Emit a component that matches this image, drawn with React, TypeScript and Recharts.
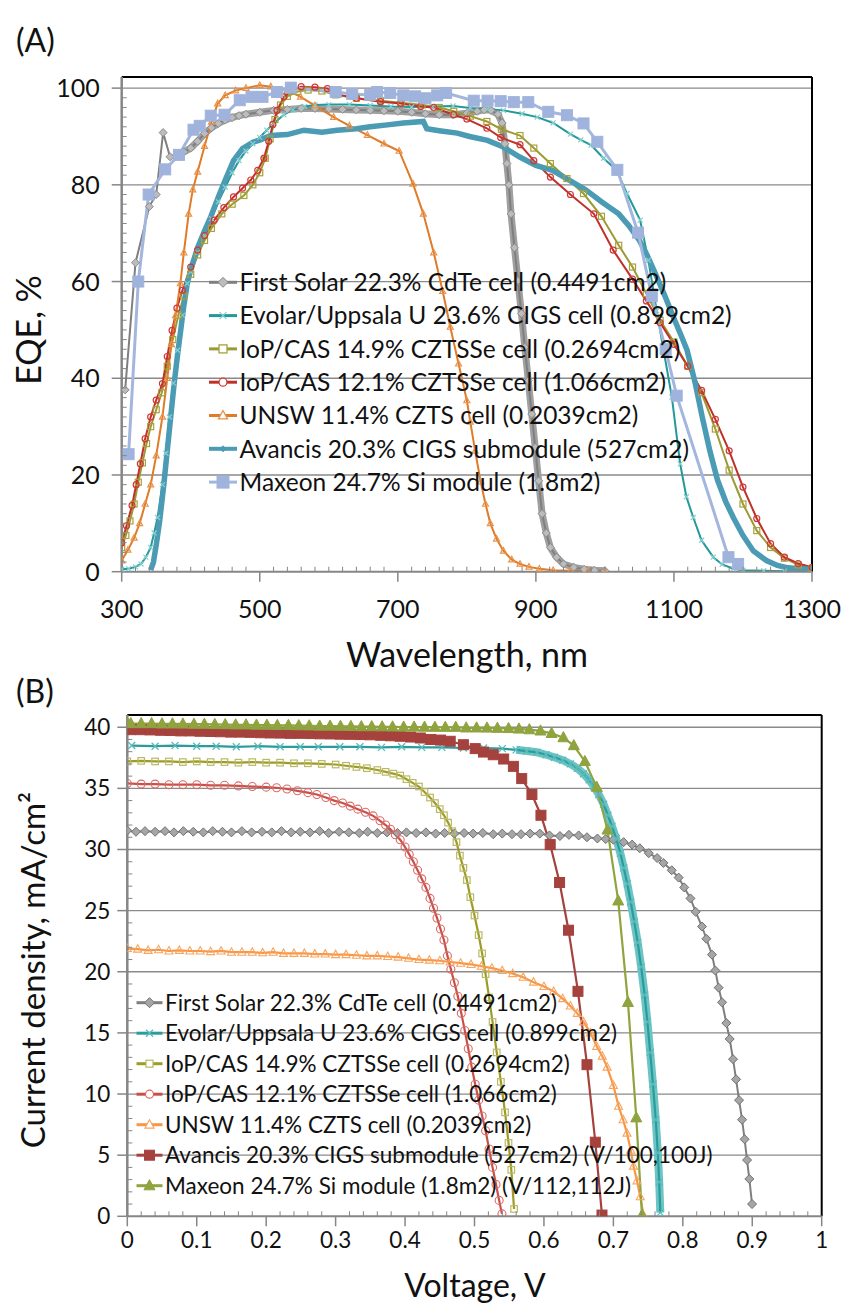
import React from 'react';
import { LineChart, Line, XAxis, YAxis, CartesianGrid, ReferenceLine } from 'recharts';

const FONT = "Lato, 'Noto Sans', sans-serif";
const AXIS = '#868686';
const GRID = '#8a8a8a';

type P = [number, number];

// ---------------- Panel A : EQE (%) vs wavelength (nm) ----------------
const legendA = [
  'First Solar 22.3% CdTe cell (0.4491cm2)',
  'Evolar/Uppsala U 23.6% CIGS cell (0.899cm2)',
  'IoP/CAS 14.9% CZTSSe cell (0.2694cm2)',
  'IoP/CAS 12.1% CZTSSe cell (1.066cm2)',
  'UNSW 11.4% CZTS cell (0.2039cm2)',
  'Avancis 20.3% CIGS submodule (527cm2)',
  'Maxeon 24.7% Si module (1.8m2)',
];

const firstSolarEQE: P[] = [[305,37.6],[320,63.9],[340,75.5],[350,78],[360,90.8],[370,85.8],[380,86.3],[390,86.8],[400,87.6],[410,89],[420,90.6],[430,91.8],[440,92.7],[450,93.4],[460,93.9],[470,94.3],[480,94.6],[500,95],[520,95.4],[540,95.6],[560,95.8],[580,95.8],[600,95.7],[620,95.6],[640,95.5],[660,95.4],[680,95.3],[700,95.2],[720,95],[740,94.7],[760,94.5],[780,94.5],[800,94.8],[815,95.2],[825,95.5],[835,95.4],[845,94.6],[851,92.8],[855,88.5],[858,84.4],[861,80],[864,74],[869,67],[874,60.2],[879,53.4],[884,46.4],[889,39.5],[894,32.6],[899,25.7],[904,18.8],[909,12],[915,8],[921,5],[930,3],[940,1.6],[955,0.9],[970,0.5],[985,0.3],[1000,0.2]];

const evolarEQE: P[] = [[300,0.5],[310,0.6],[320,1],[328,1.6],[335,3],[342,5],[347,8],[352,11.2],[359,18],[364,24.5],[369,32],[375,39],[381,45.8],[388,53],[395,59.6],[400,62],[410,66],[420,69.5],[430,73],[440,76.5],[450,79.5],[460,82.5],[470,85],[480,87],[490,88.5],[500,89.8],[510,91.3],[520,92.7],[535,94.5],[548,95.5],[565,96.2],[580,96.5],[600,96.6],[630,96.6],[660,96.4],[690,96.2],[720,96.1],[750,96.2],[780,96.3],[805,95.9],[830,95.7],[853,95.4],[880,94.7],[902,94],[925,92.8],[950,90.5],[965,89.3],[980,88.2],[998,85.5],[1017,83],[1032,78.2],[1051,72.7],[1063,64.4],[1075,54],[1085,45.8],[1097,36.1],[1109,22.3],[1118,15.5],[1128,11.2],[1140,6.5],[1157,3],[1170,1.5],[1186,0.6],[1200,0.3],[1230,0.2],[1260,0.1],[1300,0.1]];

const iop149EQE: P[] = [[300,5],[306,7.5],[312,10.5],[318,14],[324,18.5],[330,22.5],[336,26.5],[342,30],[350,33.5],[358,37],[366,42.5],[374,48],[382,53],[390,57],[400,61.5],[410,65.5],[420,68.5],[430,71],[445,74],[460,76],[477,77.8],[490,80],[500,82.5],[508,85.5],[515,89.5],[522,93.5],[530,96.5],[540,98.3],[555,99.3],[570,99.6],[590,99.4],[610,98.6],[640,97.9],[675,97.4],[705,97],[735,96.5],[760,96],[781,95.2],[805,94.2],[829,93.1],[850,91.5],[877,90.2],[897,87.6],[921,84.4],[945,81.3],[969,78.2],[995,73.5],[1020,67.5],[1040,63],[1060,57.5],[1080,52],[1100,47.5],[1120,42.5],[1140,37],[1160,29.5],[1180,21],[1200,14],[1220,8.5],[1240,5],[1260,2.8],[1280,1.4],[1300,0.6]];

const iop121EQE: P[] = [[300,6],[307,9.5],[315,13.7],[321,18],[327,22.3],[334,27.5],[342,32],[350,35.5],[359,38.9],[366,44.5],[373,49.9],[380,54.5],[388,58.2],[400,63],[410,66.5],[420,69.5],[434,72.7],[448,75.3],[462,77.5],[475,79.3],[487,81],[497,83],[506,85.5],[513,89],[519,92.5],[525,95.4],[535,98.2],[548,99.6],[560,100.3],[580,100.2],[598,99.9],[612,98.7],[640,97.9],[675,97.2],[704,96.8],[733,96.2],[752,96],[781,94.5],[800,93.6],[829,91.7],[849,89.8],[877,88.3],[897,85],[921,81.6],[950,78],[984,74],[1012,66.5],[1040,60.5],[1060,56],[1080,51.5],[1100,47],[1120,42.5],[1140,37.5],[1160,31.5],[1180,25],[1200,17.5],[1220,11],[1240,5.8],[1260,3],[1280,1.7],[1300,0.9]];

const unswEQE: P[] = [[300,2.3],[309,4.5],[318,7],[326,10],[334,14],[342,18],[350,24],[359,32],[366,40],[372,47],[378,53],[385,59.6],[390,66],[397,74],[403,79],[410,82.7],[420,88],[430,93],[439,96.8],[450,98.5],[465,99.5],[480,100],[500,100.6],[516,100.3],[540,99.6],[559,98.2],[580,96.4],[607,94],[630,92.2],[656,90.3],[680,88.5],[702,87],[722,80.2],[737,74],[752,66],[765,58],[776,50.6],[788,43],[800,35.4],[805,31],[812,25],[820,18.6],[827,14],[834,10],[843,6.8],[853,4.3],[865,2.5],[877,1.6],[890,1],[905,0.6],[925,0.3],[950,0.2],[975,0.1],[1000,0.1]];

const avancisEQE: P[] = [[342,0.3],[346,2],[350,5.5],[355,10.5],[361,18],[366,25],[371,32],[376,38.9],[381,45],[386,50.5],[390,55],[395,59.6],[400,62.5],[410,67],[420,70.5],[429,73.4],[440,77.5],[450,81],[462,85],[475,87.5],[490,88.8],[501,89.3],[516,90.2],[540,90.4],[564,91.3],[590,90.9],[612,91.3],[640,91.6],[660,92],[685,92.4],[708,92.8],[737,93.1],[742,91.6],[760,91.2],[786,90.7],[804,90],[830,89.2],[852,87.9],[876,85.8],[900,84],[924,83],[950,80.8],[972,79],[995,76.5],[1020,74],[1035,71.5],[1050,68.5],[1061,65.5],[1075,61],[1087,57],[1099,52.7],[1110,49],[1119,45.8],[1131,38.9],[1141,32],[1152,25],[1163,19],[1175,14.5],[1186,11.2],[1200,7.5],[1215,4.3],[1234,2.3],[1250,1.3],[1265,0.8],[1283,0.6],[1300,0.5]];

const maxeonEQE: P[] = [[310,24.3],[324,60],[339,78],[363,83.2],[383,86.2],[404,91.4],[413,92.2],[429,94.3],[449,94.5],[471,97.5],[488,98.2],[504,98.2],[525,99.2],[545,100.1],[610,99.2],[634,98.8],[660,98.6],[670,99.2],[689,99],[708,98.5],[725,98.3],[740,97.9],[757,98.5],[770,99],[810,97.4],[830,97.4],[849,97.3],[868,97.1],[889,97.1],[918,95.1],[945,94.4],[969,92.7],[989,88.9],[1018,83.1],[1048,70.1],[1068,57],[1088,46],[1104,36.4],[1179,3],[1193,1.6]];

const majorWavelength = [300, 500, 700, 900, 1100, 1300];
const majorEQE = [0, 20, 40, 60, 80, 100];

// ---------------- Panel B : current density vs voltage ----------------
const legendB = [
  'First Solar 22.3% CdTe cell (0.4491cm2)',
  'Evolar/Uppsala U 23.6% CIGS cell (0.899cm2)',
  'IoP/CAS 14.9% CZTSSe cell (0.2694cm2)',
  'IoP/CAS 12.1% CZTSSe cell (1.066cm2)',
  'UNSW 11.4% CZTS cell (0.2039cm2)',
  'Avancis 20.3% CIGS submodule (527cm2) (V/100,100J)',
  'Maxeon 24.7% Si module (1.8m2) (V/112,112J)',
];

const firstSolarJV: P[] = [[0,31.55],[0.0125,31.45],[0.0255,31.5],[0.04,31.45],[0.0543,31.5],[0.0672,31.4],[0.0807,31.5],[0.095,31.45],[0.1095,31.4],[0.123,31.5],[0.137,31.45],[0.15,31.4],[0.165,31.5],[0.179,31.4],[0.194,31.45],[0.208,31.4],[0.222,31.5],[0.236,31.4],[0.249,31.45],[0.263,31.4],[0.277,31.5],[0.29,31.35],[0.305,31.45],[0.319,31.4],[0.334,31.35],[0.346,31.45],[0.36,31.35],[0.374,31.4],[0.389,31.35],[0.402,31.4],[0.416,31.35],[0.43,31.4],[0.444,31.3],[0.457,31.35],[0.471,31.3],[0.485,31.35],[0.498,31.3],[0.512,31.35],[0.527,31.25],[0.54,31.3],[0.554,31.25],[0.567,31.25],[0.58,31.3],[0.594,31.3],[0.608,31.15],[0.623,31.1],[0.636,31.2],[0.65,31.15],[0.662,31.0],[0.677,30.9],[0.689,30.85],[0.7,30.8],[0.7147,30.6],[0.727,30.4],[0.738,30.1],[0.751,29.7],[0.763,29.3],[0.772,28.9],[0.784,28.3],[0.794,27.7],[0.802,26.9],[0.811,26],[0.8185,24.9],[0.8276,23.7],[0.8339,22.7],[0.842,21.4],[0.8468,20.1],[0.8516,18.7],[0.8565,17.5],[0.8627,15.8],[0.8675,14.5],[0.8723,12.85],[0.8767,11.2],[0.881,9.5],[0.8853,7.9],[0.889,6.3],[0.8925,4.6],[0.8958,3.05],[0.8997,1.0]];

const evolarJV: P[] = [[0.0063,38.5],[0.04,38.45],[0.0687,38.5],[0.0999,38.45],[0.128,38.45],[0.157,38.4],[0.188,38.45],[0.22,38.4],[0.249,38.4],[0.275,38.4],[0.306,38.4],[0.335,38.4],[0.366,38.35],[0.395,38.4],[0.424,38.35],[0.453,38.35],[0.484,38.3],[0.513,38.3],[0.54,38.25],[0.56,38.15],[0.575,38.05],[0.59,37.95],[0.603,37.75],[0.615,37.55],[0.627,37.3],[0.638,37.0],[0.648,36.65],[0.657,36.2],[0.665,35.7],[0.672,35.15],[0.679,34.5],[0.686,33.7],[0.692,32.8],[0.698,31.9],[0.704,30.9],[0.71,29.7],[0.715,28.5],[0.72,27.2],[0.725,25.7],[0.73,24.1],[0.735,22.4],[0.74,20.4],[0.745,18.1],[0.749,15.9],[0.753,13.4],[0.757,10.8],[0.761,7.9],[0.764,5.2],[0.766,2.8],[0.7676,0.3]];

const iop149JV: P[] = [[0,37.2],[0.02,37.25],[0.04,37.2],[0.06,37.2],[0.08,37.15],[0.1,37.2],[0.12,37.15],[0.14,37.15],[0.16,37.1],[0.18,37.15],[0.2,37.1],[0.22,37.1],[0.24,37.05],[0.26,37.05],[0.28,37.0],[0.3,36.95],[0.315,36.85],[0.33,36.75],[0.345,36.65],[0.36,36.5],[0.372,36.35],[0.383,36.2],[0.393,36.05],[0.402,35.75],[0.411,35.45],[0.42,35.15],[0.428,34.7],[0.436,34.25],[0.443,33.8],[0.45,33.3],[0.456,32.8],[0.462,32.2],[0.468,31.5],[0.474,30.6],[0.479,29.5],[0.484,28.5],[0.489,27.5],[0.494,26.1],[0.5,24.6],[0.506,23],[0.511,21.5],[0.516,19.8],[0.521,17.9],[0.526,15.9],[0.532,13.4],[0.538,11],[0.544,8.5],[0.549,6],[0.553,3.8],[0.557,0.6]];

const iop121JV: P[] = [[0,35.4],[0.02,35.35],[0.04,35.35],[0.06,35.3],[0.08,35.3],[0.1,35.3],[0.12,35.25],[0.14,35.25],[0.16,35.2],[0.18,35.15],[0.2,35.1],[0.215,35.05],[0.23,34.95],[0.245,34.8],[0.26,34.65],[0.273,34.5],[0.286,34.25],[0.298,34.0],[0.31,33.8],[0.321,33.55],[0.332,33.3],[0.343,33.05],[0.354,32.75],[0.364,32.35],[0.372,32.0],[0.379,31.65],[0.386,31.2],[0.393,30.8],[0.4,30.2],[0.406,29.6],[0.412,29.0],[0.418,28.3],[0.424,27.6],[0.43,26.9],[0.436,26.0],[0.441,25.2],[0.446,24.4],[0.451,23.5],[0.456,22.6],[0.461,21.3],[0.466,20.2],[0.471,19.1],[0.476,18],[0.481,16.6],[0.486,15.2],[0.491,13.7],[0.496,12.2],[0.501,10.8],[0.506,9.5],[0.511,8.2],[0.516,7.0],[0.521,5.5],[0.526,4.0],[0.531,2.6],[0.5355,1.3],[0.5395,0.2]];

const unswJV: P[] = [[0,21.9],[0.015,21.85],[0.03,21.75],[0.045,21.8],[0.06,21.7],[0.075,21.75],[0.09,21.7],[0.105,21.7],[0.12,21.65],[0.135,21.7],[0.15,21.6],[0.165,21.6],[0.18,21.6],[0.195,21.55],[0.21,21.6],[0.225,21.5],[0.24,21.5],[0.255,21.5],[0.27,21.45],[0.285,21.45],[0.3,21.4],[0.315,21.4],[0.33,21.35],[0.345,21.3],[0.36,21.3],[0.375,21.25],[0.39,21.2],[0.405,21.1],[0.42,21.0],[0.435,20.95],[0.45,20.9],[0.465,20.8],[0.48,20.7],[0.495,20.6],[0.51,20.45],[0.525,20.3],[0.54,20.1],[0.555,19.85],[0.57,19.55],[0.585,19.15],[0.6,18.8],[0.614,18.4],[0.627,17.8],[0.638,17.2],[0.648,16.6],[0.657,15.9],[0.667,15],[0.676,13.9],[0.684,13.1],[0.691,12.2],[0.7,10.7],[0.7075,9.0],[0.714,7.9],[0.7196,6.8],[0.725,5.4],[0.729,4.1],[0.734,2.9],[0.7387,1.6],[0.7435,0.1]];

const avancisJV: P[] = [[0.004,39.8],[0.019,39.8],[0.033,39.78],[0.048,39.75],[0.062,39.73],[0.077,39.7],[0.091,39.7],[0.105,39.67],[0.12,39.65],[0.134,39.63],[0.149,39.6],[0.163,39.6],[0.177,39.58],[0.192,39.55],[0.206,39.53],[0.221,39.52],[0.235,39.5],[0.249,39.5],[0.264,39.48],[0.278,39.46],[0.293,39.45],[0.307,39.43],[0.321,39.42],[0.336,39.4],[0.35,39.38],[0.365,39.34],[0.379,39.3],[0.393,39.26],[0.408,39.2],[0.422,39.12],[0.437,39.0],[0.451,38.95],[0.465,38.85],[0.484,38.57],[0.501,38.25],[0.513,37.97],[0.527,37.75],[0.542,37.4],[0.556,36.8],[0.568,35.8],[0.5827,34.5],[0.5957,32.8],[0.609,30.4],[0.6225,27.3],[0.6354,23.4],[0.649,18.4],[0.662,12.4],[0.674,6.06],[0.6836,0.1]];

const maxeonJV: P[] = [[0,40.35],[0.005,40.3],[0.02,40.3],[0.035,40.3],[0.05,40.28],[0.065,40.28],[0.08,40.27],[0.096,40.25],[0.111,40.25],[0.126,40.23],[0.141,40.22],[0.156,40.2],[0.171,40.2],[0.186,40.18],[0.201,40.17],[0.216,40.15],[0.232,40.15],[0.247,40.13],[0.262,40.12],[0.277,40.1],[0.292,40.1],[0.307,40.08],[0.322,40.07],[0.337,40.05],[0.352,40.05],[0.367,40.04],[0.382,40.03],[0.398,40.02],[0.413,40.02],[0.428,40.01],[0.443,40.0],[0.458,40.0],[0.473,40.0],[0.488,39.95],[0.503,39.95],[0.518,39.94],[0.533,39.92],[0.549,39.9],[0.564,39.86],[0.579,39.8],[0.595,39.7],[0.611,39.5],[0.628,39.15],[0.643,38.5],[0.659,37.2],[0.676,35.1],[0.6915,31.6],[0.707,25.8],[0.721,17.5],[0.733,8.06],[0.7412,0.1]];

const majorVoltage = [0, 0.1, 0.2, 0.3, 0.4, 0.5, 0.6, 0.7, 0.8, 0.9, 1];
const voltageLabels = ['0', '0.1', '0.2', '0.3', '0.4', '0.5', '0.6', '0.7', '0.8', '0.9', '1'];
const majorCurrent = [0, 5, 10, 15, 20, 25, 30, 35, 40];

// ---------------- helpers ----------------
const pts = (a: P[]) => a.map(([x, y]) => ({ x, y }));
const range = (start: number, end: number, step: number) => {
  const out: number[] = [];
  for (let i = 0; start + i * step <= end + 1e-9; i++) out.push(Math.round((start + i * step) * 1000) / 1000);
  return out;
};
const isIn = (v: number, arr: number[]) => arr.some((m) => Math.abs(m - v) < 1e-6);

type Mk = { shape: 'diamond' | 'square' | 'circle' | 'triangle' | 'x' | 'none'; size: number; fill: string; stroke: string; sw?: number };

function Marker({ cx, cy, m }: { cx: number; cy: number; m: Mk }) {
  const s = m.size;
  const h = s / 2;
  const sw = m.sw ?? 1;
  switch (m.shape) {
    case 'diamond':
      return <polygon points={`${cx},${cy - h} ${cx + h},${cy} ${cx},${cy + h} ${cx - h},${cy}`} fill={m.fill} stroke={m.stroke} strokeWidth={sw} />;
    case 'square':
      return <rect x={cx - h} y={cy - h} width={s} height={s} fill={m.fill} stroke={m.stroke} strokeWidth={sw} />;
    case 'circle':
      return <circle cx={cx} cy={cy} r={h} fill={m.fill} stroke={m.stroke} strokeWidth={sw} />;
    case 'triangle':
      return <polygon points={`${cx},${cy - h * 1.1} ${cx + h},${cy + h * 0.75} ${cx - h},${cy + h * 0.75}`} fill={m.fill} stroke={m.stroke} strokeWidth={sw} />;
    case 'x':
      return (
        <g stroke={m.stroke} strokeWidth={sw}>
          <line x1={cx - h} y1={cy - h} x2={cx + h} y2={cy + h} />
          <line x1={cx - h} y1={cy + h} x2={cx + h} y2={cy - h} />
        </g>
      );
    default:
      return null;
  }
}

const dotOf = (m: Mk) => (p: any) => {
  if (!p || p.cx == null || p.cy == null || m.shape === 'none') return <g key={`e${p?.index}`} />;
  return (
    <g key={`k${p.index}`}>
      <Marker cx={p.cx} cy={p.cy} m={m} />
    </g>
  );
};

type Style = { color: string; width: number; marker: Mk; legendWidth?: number };

const stylesA: Style[] = [
  { color: '#7f7f7f', width: 2, marker: { shape: 'diamond', size: 8, fill: '#bcbcbc', stroke: '#8c8c8c' } },
  { color: '#23999a', width: 2, marker: { shape: 'x', size: 5, fill: 'none', stroke: '#86cfcf', sw: 1.2 } },
  { color: '#9c9a35', width: 2, marker: { shape: 'square', size: 6, fill: 'none', stroke: '#a8a23a', sw: 1.2 } },
  { color: '#c0302a', width: 2, marker: { shape: 'circle', size: 6, fill: 'none', stroke: '#d03a35', sw: 1.2 } },
  { color: '#e07b28', width: 2, marker: { shape: 'triangle', size: 6, fill: 'none', stroke: '#e9924a', sw: 1.2 } },
  { color: '#4a9bb3', width: 5.5, marker: { shape: 'none', size: 0, fill: 'none', stroke: 'none' }, legendWidth: 4 },
  { color: '#a3b6de', width: 3, marker: { shape: 'square', size: 11, fill: '#9fb3dc', stroke: '#9fb3dc' } },
];
const legendMarkersA: Mk[] = [
  { shape: 'diamond', size: 10, fill: '#bcbcbc', stroke: '#8c8c8c' },
  { shape: 'x', size: 7, fill: 'none', stroke: '#86cfcf', sw: 1.3 },
  { shape: 'square', size: 8, fill: '#fff', stroke: '#a8a23a', sw: 1.3 },
  { shape: 'circle', size: 8, fill: '#fff', stroke: '#d03a35', sw: 1.3 },
  { shape: 'triangle', size: 9, fill: '#fff', stroke: '#e9924a', sw: 1.3 },
  { shape: 'diamond', size: 6, fill: '#4a9bb3', stroke: '#4a9bb3' },
  { shape: 'square', size: 12, fill: '#9fb3dc', stroke: '#9fb3dc' },
];
const dataA = [firstSolarEQE, evolarEQE, iop149EQE, iop121EQE, unswEQE, avancisEQE, maxeonEQE];

const stylesB: Style[] = [
  { color: '#7f7f7f', width: 2, marker: { shape: 'diamond', size: 9, fill: '#a6a6a6', stroke: '#707070' } },
  { color: '#2a9c9c', width: 2.2, marker: { shape: 'x', size: 7, fill: 'none', stroke: '#5cbaba', sw: 1.3 } },
  { color: '#9c9c26', width: 2.2, marker: { shape: 'square', size: 6.5, fill: 'none', stroke: '#b9b966', sw: 1.2 } },
  { color: '#c8504b', width: 2.2, marker: { shape: 'circle', size: 8, fill: 'none', stroke: '#dc6a66', sw: 1.1 } },
  { color: '#f79646', width: 2.2, marker: { shape: 'triangle', size: 8, fill: 'none', stroke: '#f8a55e', sw: 1.1 } },
  { color: '#a5423d', width: 2.2, marker: { shape: 'square', size: 10, fill: '#a5423d', stroke: '#a5423d' } },
  { color: '#8fa33e', width: 2.2, marker: { shape: 'triangle', size: 11, fill: '#8fa33e', stroke: '#8fa33e' } },
];
const legendMarkersB: Mk[] = [
  { shape: 'diamond', size: 10, fill: '#a6a6a6', stroke: '#707070' },
  { shape: 'x', size: 7, fill: 'none', stroke: '#5cbaba', sw: 1.3 },
  { shape: 'square', size: 7, fill: '#fff', stroke: '#b9b966', sw: 1.2 },
  { shape: 'circle', size: 8, fill: '#fff', stroke: '#dc6a66', sw: 1.2 },
  { shape: 'triangle', size: 9, fill: '#fff', stroke: '#f8a55e', sw: 1.2 },
  { shape: 'square', size: 10, fill: '#a5423d', stroke: '#a5423d' },
  { shape: 'triangle', size: 11, fill: '#8fa33e', stroke: '#8fa33e' },
];
const dataB = [firstSolarJV, evolarJV, iop149JV, iop121JV, unswJV, avancisJV, maxeonJV];

// ---------------- ticks ----------------
const xTicksA = range(300, 1300, 20);
const yTicksA = range(0, 100, 2);
const xTicksB = range(0, 1, 0.02);
const yTicksB = range(0, 40, 1);

const XTickA = (p: any) => {
  const { x, y, payload } = p;
  const v = payload.value;
  if (isIn(v, majorWavelength)) {
    return (
      <g>
        <line x1={x} y1={y} x2={x} y2={y + 10} stroke={AXIS} strokeWidth={1.5} />
        <text x={x} y={y + 46.5} textAnchor="middle" fontSize={25} fontFamily={FONT} fill="#111">{v}</text>
      </g>
    );
  }
  return <line x1={x} y1={y} x2={x} y2={y - 5} stroke={AXIS} strokeWidth={1} />;
};
const YTickA = (p: any) => {
  const { x, y, payload } = p;
  const v = payload.value;
  if (isIn(v, majorEQE)) {
    return (
      <g>
        <line x1={x} y1={y} x2={x - 10} y2={y} stroke={AXIS} strokeWidth={1.5} />
        <text x={x - 22} y={y + 9} textAnchor="end" fontSize={25} fontFamily={FONT} fill="#111">{v}</text>
      </g>
    );
  }
  return <line x1={x} y1={y} x2={x + 5} y2={y} stroke={AXIS} strokeWidth={1} />;
};
const XTickB = (p: any) => {
  const { x, y, payload } = p;
  const v = payload.value;
  const idx = majorVoltage.findIndex((m) => Math.abs(m - v) < 1e-6);
  if (idx >= 0) {
    return (
      <g>
        <line x1={x} y1={y} x2={x} y2={y + 10} stroke={AXIS} strokeWidth={1.5} />
        <text x={x} y={y + 32} textAnchor="middle" fontSize={22.5} fontFamily={FONT} fill="#111">{voltageLabels[idx]}</text>
      </g>
    );
  }
  return <line x1={x} y1={y} x2={x} y2={y - 5} stroke={AXIS} strokeWidth={1} />;
};
const YTickB = (p: any) => {
  const { x, y, payload } = p;
  const v = payload.value;
  if (isIn(v, majorCurrent)) {
    return (
      <g>
        <line x1={x} y1={y} x2={x - 10} y2={y} stroke={AXIS} strokeWidth={1.5} />
        <text x={x - 17} y={y + 8} textAnchor="end" fontSize={22.5} fontFamily={FONT} fill="#111">{v}</text>
      </g>
    );
  }
  return <line x1={x} y1={y} x2={x + 5} y2={y} stroke={AXIS} strokeWidth={1} />;
};

// ---------------- chart geometry ----------------
const W = 847;
const A_H = 672;
const A_MAX = 102.3;
const B_TOP = 672;
const B_H = 633;
const B_MAX = 41.0;

function Legend({ names, markers, styles, x1, x2, tx, y0, dy, fontSize }: { names: string[]; markers: Mk[]; styles: Style[]; x1: number; x2: number; tx: number; y0: number; dy: number; fontSize: number }) {
  return (
    <g>
      {names.map((n, i) => {
        const y = y0 + i * dy;
        const st = styles[i];
        return (
          <g key={n}>
            <line x1={x1} y1={y} x2={x2} y2={y} stroke={st.color} strokeWidth={st.legendWidth ?? 3} />
            <Marker cx={(x1 + x2) / 2} cy={y} m={markers[i]} />
            <text x={tx} y={y + fontSize * 0.36} fontSize={fontSize} fontFamily={FONT} fill="#111">{n}</text>
          </g>
        );
      })}
    </g>
  );
}

export default function App() {
  const grayBandA = pts(firstSolarEQE.filter(([x]) => x >= 375));
  const evolarBandB = pts(evolarJV.filter(([x]) => x >= 0.55));
  return (
    <div style={{ position: 'absolute', left: 0, top: 0, width: W, height: 1305, background: '#fff', overflow: 'hidden' }}>
      <div style={{ position: 'absolute', left: 0, top: 0 }}>
        <LineChart width={W} height={A_H} margin={{ top: 77, right: 35, bottom: 0, left: 0 }}>
          <CartesianGrid vertical={false} horizontalValues={[20, 40, 60, 80, 100]} stroke={GRID} strokeWidth={1.3} />
          <XAxis dataKey="x" type="number" domain={[300, 1300]} ticks={xTicksA} interval={0} allowDataOverflow height={A_H - 571.7} tickSize={0} tickMargin={0} tickLine={false} axisLine={{ stroke: AXIS, strokeWidth: 2 }} tick={XTickA} />
          <YAxis type="number" domain={[0, A_MAX]} ticks={yTicksA} interval={0} allowDataOverflow width={121.7} tickSize={0} tickMargin={0} tickLine={false} axisLine={{ stroke: AXIS, strokeWidth: 2.5 }} tick={YTickA} />
          <ReferenceLine y={A_MAX} stroke="#000" strokeWidth={2} />
          <ReferenceLine x={1300} stroke="#000" strokeWidth={2} />
          <Line data={grayBandA} dataKey="y" name="gray-band" type="linear" stroke="#a0a0a0" strokeWidth={7} dot={false} activeDot={false} legendType="none" isAnimationActive={false} />
          {dataA.map((d, i) => (
            <Line key={legendA[i]} name={legendA[i]} data={pts(d)} dataKey="y" type="linear" stroke={stylesA[i].color} strokeWidth={stylesA[i].width} dot={dotOf(stylesA[i].marker)} activeDot={false} isAnimationActive={false} />
          ))}
        </LineChart>
      </div>
      <div style={{ position: 'absolute', left: 0, top: B_TOP }}>
        <LineChart width={W} height={B_H} margin={{ top: 715 - B_TOP, right: 25.3, bottom: 0, left: 0 }}>
          <CartesianGrid vertical={false} horizontalValues={[5, 10, 15, 20, 25, 30, 35, 40]} stroke={GRID} strokeWidth={1.3} />
          <XAxis dataKey="x" type="number" domain={[0, 1]} ticks={xTicksB} interval={0} allowDataOverflow height={B_H - (1216.3 - B_TOP)} tickSize={0} tickMargin={0} tickLine={false} axisLine={{ stroke: AXIS, strokeWidth: 2 }} tick={XTickB} />
          <YAxis type="number" domain={[0, B_MAX]} ticks={yTicksB} interval={0} allowDataOverflow width={127.3} tickSize={0} tickMargin={0} tickLine={false} axisLine={{ stroke: AXIS, strokeWidth: 2.5 }} tick={YTickB} />
          <ReferenceLine y={B_MAX} stroke="#000" strokeWidth={2} />
          <ReferenceLine x={1} stroke="#000" strokeWidth={2} />
          {dataB.map((d, i) => (
            <React.Fragment key={legendB[i]}>
              {i === 1 ? (
                <Line data={evolarBandB} dataKey="y" name="evolar-band" type="linear" stroke="#6cc4c4" strokeWidth={8} dot={false} activeDot={false} legendType="none" isAnimationActive={false} />
              ) : null}
              <Line name={legendB[i]} data={pts(d)} dataKey="y" type="linear" stroke={stylesB[i].color} strokeWidth={stylesB[i].width} dot={dotOf(stylesB[i].marker)} activeDot={false} isAnimationActive={false} />
            </React.Fragment>
          ))}
        </LineChart>
      </div>
      <svg width={W} height={1305} style={{ position: 'absolute', left: 0, top: 0, pointerEvents: 'none' }}>
        <text x={16} y={52} fontSize={32} fontFamily={FONT} fill="#111">(A)</text>
        <text x={16} y={703} fontSize={32} fontFamily={FONT} fill="#111">(B)</text>
        <text transform="translate(41,330) rotate(-90)" textAnchor="middle" fontSize={34} fontFamily={FONT} fill="#111">EQE, %</text>
        <text x={467} y={667} textAnchor="middle" fontSize={34} fontFamily={FONT} fill="#111">Wavelength, nm</text>
        <text transform="translate(45,970) rotate(-90)" textAnchor="middle" fontSize={33} fontFamily={FONT} fill="#111">Current density, mA/cm²</text>
        <text x={475} y={1297} textAnchor="middle" fontSize={32} fontFamily={FONT} fill="#111">Voltage, V</text>
        <Legend names={legendA} markers={legendMarkersA} styles={stylesA} x1={209} x2={237} tx={239.5} y0={282.3} dy={33.3} fontSize={24.5} />
        <Legend names={legendB} markers={legendMarkersB} styles={stylesB} x1={136.5} x2={162.5} tx={165} y0={1002.7} dy={30.5} fontSize={22.5} />
      </svg>
    </div>
  );
}
